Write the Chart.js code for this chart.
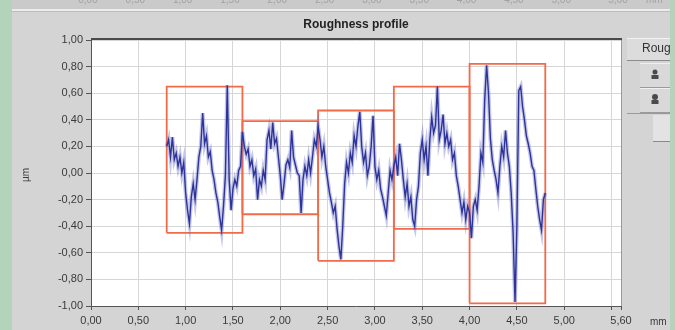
<!DOCTYPE html>
<html>
<head>
<meta charset="utf-8">
<script src="https://cdn.jsdelivr.net/npm/chart.js@4.4.0/dist/chart.umd.min.js"></script>
<style>
  html, body { margin: 0; padding: 0; background: #d4d4d4; }
  #wrap { width: 675px; height: 330px; }
</style>
</head>
<body>
<div id="wrap"><canvas id="chart" width="675" height="330"></canvas></div>
<script>
// профиль шероховатости, шаг 0,02 мм начиная с 0,80 мм
const profileStart = 0.8;
const profileStep = 0.02;
const profileValues = [
  0.20, 0.25, 0.12, 0.27, 0.10, 0.15, 0.05, 0.12, 0.00, 0.08, -0.15,
  -0.28, -0.38, -0.18, -0.08, -0.20, -0.05, 0.12, 0.20, 0.45, 0.22,
  0.28, 0.12, 0.16, 0.02, -0.05, -0.15, -0.22, -0.33, -0.43, -0.25,
  -0.02, 0.66, -0.05, -0.28, -0.12, -0.05, -0.10, 0.02, 0.05, 0.31,
  0.20, 0.14, 0.18, 0.05, 0.10, -0.02, 0.03, -0.20, -0.05, -0.10,
  0.02, -0.05, 0.25, 0.32, 0.18, 0.38, 0.22, 0.26, 0.12, -0.02,
  -0.20, -0.08, 0.06, 0.10, 0.04, 0.32, 0.12, 0.06, 0.00, -0.02,
  -0.30, -0.05, 0.05, -0.02, 0.10, 0.00, 0.12, 0.25, 0.20, 0.35,
  0.25, 0.12, 0.20, 0.05, -0.05, -0.15, -0.22, -0.30, -0.25, -0.42,
  -0.55, -0.65, -0.40, -0.08, 0.08, 0.00, 0.15, 0.08, 0.28, 0.20,
  0.35, 0.46, 0.20, 0.08, 0.15, -0.02, 0.05, 0.20, 0.43, 0.05,
  -0.05, 0.02, -0.12, -0.18, -0.25, -0.32, -0.15, 0.02, -0.05, 0.05,
  0.12, -0.02, 0.22, 0.10, -0.05, -0.18, -0.08, -0.25, -0.18, -0.35,
  -0.40, -0.20, -0.10, 0.15, 0.25, 0.10, 0.20, -0.02, 0.25, 0.42,
  0.30, 0.36, 0.65, 0.25, 0.32, 0.44, 0.22, 0.30, 0.20, 0.25,
  0.10, 0.15, -0.02, -0.10, -0.20, -0.30, -0.22, -0.35, -0.25, -0.30,
  -0.49, -0.25, -0.20, -0.28, -0.10, 0.15, 0.08, 0.55, 0.81, 0.60,
  0.26, 0.10, 0.02, -0.05, -0.15, 0.05, 0.20, 0.12, 0.32, 0.15,
  0.05, -0.15, -0.45, -0.97, -0.40, 0.62, 0.65, 0.50, 0.40, 0.28,
  0.22, 0.15, 0.05, 0.02, -0.12, -0.25, -0.35, -0.43, -0.20, -0.15,
];

// участки измерения (рамки Rz)
const segmentStarts = [0.8, 1.6, 2.4, 3.2, 4.0];
const segmentEnds = [1.6, 2.4, 3.2, 4.0, 4.8];
const segmentPeaks = [0.65, 0.39, 0.47, 0.65, 0.82];
const segmentValleys = [-0.45, -0.31, -0.66, -0.42, -0.98];

const xTickValues = [0, 0.5, 1, 1.5, 2, 2.5, 3, 3.5, 4, 4.5, 5, 5.5, 5.6];
const xTickLabels = ["0,00", "0,50", "1,00", "1,50", "2,00", "2,50", "3,00", "3,50", "4,00", "4,50", "5,00", "", "5,60"];
const yTickValues = [-1, -0.8, -0.6, -0.4, -0.2, 0, 0.2, 0.4, 0.6, 0.8, 1];
const yTickLabels = ["-1,00", "-0,80", "-0,60", "-0,40", "-0,20", "0,00", "0,20", "0,40", "0,60", "0,80", "1,00"];

const profilePoints = profileValues.map((v, i) => ({ x: profileStart + i * profileStep, y: v }));

const segmentDatasets = segmentStarts.map((start, i) => ({
  data: [
    { x: start, y: segmentValleys[i] },
    { x: start, y: segmentPeaks[i] },
    { x: segmentEnds[i], y: segmentPeaks[i] },
    { x: segmentEnds[i], y: segmentValleys[i] },
    { x: start, y: segmentValleys[i] },
  ],
  borderColor: "#f26a48",
  borderWidth: 1.8,
  pointRadius: 0,
  tension: 0,
  order: 2,
}));

const panelGreen = "#b3d3ba";

const frame = {
  id: "frame",
  beforeDraw(chart) {
    const { ctx, chartArea: a, width } = chart;
    ctx.save();
    ctx.fillStyle = "#d4d4d4";
    ctx.fillRect(0, 0, width, chart.height);
    // полоска от соседнего графика сверху
    ctx.fillStyle = "#cacaca";
    ctx.fillRect(0, 0, width, 9);
    ctx.font = "10px 'Liberation Sans'";
    ctx.fillStyle = "#a2a2a2";
    ctx.textAlign = "center";
    ctx.textBaseline = "alphabetic";
    const xs = chart.scales.x;
    xTickValues.forEach((v, i) => {
      if (xTickLabels[i]) ctx.fillText(xTickLabels[i], xs.getPixelForValue(v) - 3, 3);
    });
    ctx.textAlign = "left";
    ctx.fillText("mm", 646, 3);
    ctx.fillStyle = "#ececec";
    ctx.fillRect(0, 9, width, 2);
    ctx.fillStyle = "#bdbdbd";
    ctx.fillRect(0, 11, width, 1);
    // белое поле графика
    ctx.fillStyle = "#ffffff";
    ctx.fillRect(a.left, a.top, a.right - a.left, a.bottom - a.top);
    ctx.restore();
  },
  afterDraw(chart) {
    const { ctx, chartArea: a, width, height } = chart;
    ctx.save();
    // рамка
    ctx.fillStyle = "#4a4a4a";
    ctx.fillRect(a.left, a.top - 2, a.right - a.left + 1, 2);
    ctx.fillStyle = "#9a9a9a";
    ctx.fillRect(a.right, a.top, 1, a.bottom - a.top);

    // подписи осей
    ctx.fillStyle = "#3a3a3a";
    ctx.font = "10px 'Liberation Sans'";
    ctx.textAlign = "left";
    ctx.textBaseline = "middle";
    ctx.fillText("mm", 650, 322);
    ctx.save();
    ctx.translate(26, 175);
    ctx.rotate(-Math.PI / 2);
    ctx.textAlign = "center";
    ctx.fillText("µm", 0, 0);
    ctx.restore();

    // панель кнопок справа
    ctx.fillStyle = "#dcdcdc";
    ctx.fillRect(627, 38, 45, 22);
    ctx.fillStyle = "#f2f2f2";
    ctx.fillRect(627, 38, 45, 1);
    ctx.fillStyle = "#8c8c8c";
    ctx.fillRect(627, 60, 45, 1);
    ctx.fillStyle = "#333";
    ctx.font = "12px 'Liberation Sans'";
    ctx.fillText("Roughness", 642, 49);

    [63, 88].forEach((top, k) => {
      ctx.fillStyle = "#d9d9d9";
      ctx.fillRect(640, top, 32, 24);
      ctx.fillStyle = "#f0f0f0";
      ctx.fillRect(640, top, 32, 1);
      ctx.fillStyle = "#9a9a9a";
      ctx.fillRect(640, top + 24, 32, 1);
      const cx = 655;
      const cy = top + 12;
      ctx.fillStyle = "#4a4a4a";
      ctx.beginPath();
      ctx.arc(cx, cy - 3, k === 0 ? 2.5 : 3, 0, Math.PI * 2);
      ctx.fill();
      ctx.fillRect(cx - 3.5, cy, 7, 4);
    });
    ctx.fillStyle = "#9a9a9a";
    ctx.fillRect(627, 113, 45, 1);
    ctx.fillStyle = "#e3e3e3";
    ctx.fillRect(653, 115, 19, 26);
    ctx.fillStyle = "#8a8a8a";
    ctx.fillRect(653, 141, 19, 1);

    // зелёные края
    ctx.fillStyle = panelGreen;
    ctx.fillRect(0, 0, 12, height);
    ctx.fillRect(670, 0, width - 670, height);
    ctx.restore();
  },
};

Chart.defaults.font.family = "'Liberation Sans', Arial, sans-serif";

new Chart(document.getElementById("chart"), {
  type: "line",
  data: {
    datasets: [
      {
        data: profilePoints,
        borderColor: "#2d3398",
        borderWidth: 1.4,
        pointRadius: 0,
        tension: 0,
        order: 0,
      },
      {
        data: profilePoints,
        borderColor: "rgba(110,115,200,0.4)",
        borderWidth: 4,
        pointRadius: 0,
        tension: 0,
        order: 1,
      },
      ...segmentDatasets,
    ],
  },
  options: {
    responsive: false,
    animation: false,
    devicePixelRatio: 1,
    layout: { padding: { left: 0, right: 54, top: 0, bottom: 0 } },
    plugins: {
      legend: { display: false },
      tooltip: { enabled: false },
      title: {
        display: true,
        text: "Roughness profile",
        fullSize: false,
        color: "#222",
        font: { size: 12, weight: "bold" },
        padding: { top: 17, bottom: 8.6 },
      },
    },
    scales: {
      x: {
        type: "linear",
        min: 0,
        max: 5.6,
        afterBuildTicks(scale) {
          scale.ticks = xTickValues.map((v) => ({ value: v }));
        },
        afterFit(scale) {
          scale.height = 24;
        },
        ticks: {
          autoSkip: false,
          maxRotation: 0,
          padding: 4,
          color: "#3a3a3a",
          font: { size: 11 },
          callback: (value, index) => xTickLabels[index],
        },
        grid: { color: "#d6d6d6", tickColor: "#555", tickLength: 4 },
        border: { color: "#555", width: 1 },
      },
      y: {
        min: -1,
        max: 1,
        afterBuildTicks(scale) {
          scale.ticks = yTickValues.map((v) => ({ value: v }));
        },
        afterFit(scale) {
          scale.width = 91;
        },
        ticks: {
          autoSkip: false,
          padding: 3,
          color: "#3a3a3a",
          font: { size: 11 },
          callback: (value, index) => yTickLabels[index],
        },
        grid: { color: "#d6d6d6", tickColor: "#555", tickLength: 5 },
        border: { color: "#555", width: 1 },
      },
    },
  },
  plugins: [frame],
});
</script>
</body>
</html>
